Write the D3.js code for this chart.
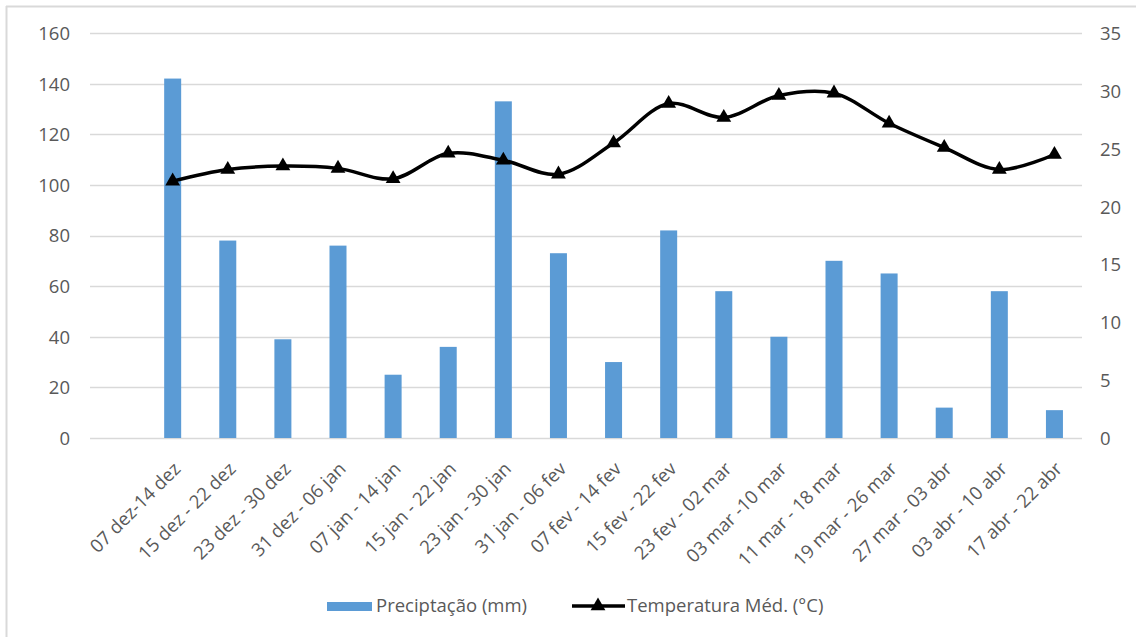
<!DOCTYPE html>
<html>
<head>
<meta charset="utf-8">
<script src="https://cdn.jsdelivr.net/npm/d3@7"></script>
<style>
  html, body { margin: 0; padding: 0; background: #ffffff; }
  svg { display: block; }
  text { font-family: "Open Sans", "Noto Sans", sans-serif; }
</style>
</head>
<body>
<svg id="chart" width="1136" height="637"></svg>
<script>
// ---- Data ----
const categories = ["", "07 dez-14 dez", "15 dez - 22 dez", "23 dez - 30 dez", "31 dez - 06 jan",
  "07 jan - 14 jan", "15 jan - 22 jan", "23 jan - 30 jan", "31 jan - 06 fev", "07 fev - 14 fev",
  "15 fev - 22 fev", "23 fev - 02 mar", "03 mar -10 mar", "11 mar - 18 mar", "19 mar - 26 mar",
  "27 mar - 03 abr", "03 abr - 10 abr", "17 abr - 22 abr"];
const precipitation = [null, 142, 78, 39, 76, 25, 36, 133, 73, 30, 82, 58, 40, 70, 65, 12, 58, 11];
const temperature = [null, 22.2, 23.2, 23.5, 23.3, 22.4, 24.6, 24.0, 22.8, 25.5, 28.9, 27.7, 29.6, 29.8, 27.2, 25.1, 23.2, 24.5];
const leftTicks = [0, 20, 40, 60, 80, 100, 120, 140, 160];
const rightTicks = [0, 5, 10, 15, 20, 25, 30, 35];
const seriesNames = ["Preciptação (mm)", "Temperatura Méd. (°C)"];

// ---- Layout ----
const svg = d3.select("#chart");
const plot = { left: 90, right: 1082, top: 33, bottom: 438 };
const textColor = "#595959";
const gridColor = "#d9d9d9";
const barColor = "#5b9bd5";
const fontSize = 18.5;

const x = d3.scaleBand().domain(categories.map((c, i) => i)).range([plot.left, plot.right]).padding(0);
const yL = d3.scaleLinear().domain([0, 160]).range([plot.bottom, plot.top]);
const yR = d3.scaleLinear().domain([0, 35]).range([plot.bottom, plot.top]);

// Outer frame (light gray left and top edges)
svg.append("line").attr("x1", 6.5).attr("x2", 6.5).attr("y1", 6).attr("y2", 637)
  .attr("stroke", gridColor).attr("stroke-width", 2);
svg.append("line").attr("x1", 6).attr("x2", 1136).attr("y1", 6.5).attr("y2", 6.5)
  .attr("stroke", gridColor).attr("stroke-width", 2);

// Gridlines
svg.append("g").selectAll("line").data(leftTicks).join("line")
  .attr("x1", plot.left).attr("x2", plot.right)
  .attr("y1", d => Math.round(yL(d)) + 0.5).attr("y2", d => Math.round(yL(d)) + 0.5)
  .attr("stroke", gridColor).attr("stroke-width", 1.3);

// Left axis
const leftAxis = d3.axisLeft(yL).tickValues(leftTicks).tickSize(0).tickPadding(0);
const gL = svg.append("g").attr("transform", `translate(70,0)`).call(leftAxis);
gL.select(".domain").remove();
gL.selectAll("text").attr("fill", textColor).attr("font-size", fontSize).attr("x", 0).attr("dy", "0.35em")
  .style("font-family", '"Open Sans", sans-serif');

// Right axis
const rightAxis = d3.axisRight(yR).tickValues(rightTicks).tickSize(0).tickPadding(0);
const gR = svg.append("g").attr("transform", `translate(1100,0)`).call(rightAxis);
gR.select(".domain").remove();
gR.selectAll("text").attr("fill", textColor).attr("font-size", fontSize).attr("x", 0).attr("dy", "0.35em")
  .style("font-family", '"Open Sans", sans-serif');

// Bars
const barW = 17;
const barData = precipitation.map((v, i) => ({ i, v })).filter(d => d.v != null);
svg.append("g").selectAll("rect").data(barData).join("rect")
  .attr("x", d => x(d.i) + x.bandwidth() / 2 - barW / 2)
  .attr("width", barW)
  .attr("y", d => yL(d.v))
  .attr("height", d => yL(0) - yL(d.v))
  .attr("fill", barColor);

// X category labels (rotated)
const labData = categories.map((c, i) => ({ i, c })).filter(d => d.c !== "");
svg.append("g").selectAll("text").data(labData).join("text")
  .attr("transform", d => `translate(${x(d.i) + x.bandwidth() / 2 + 9},470) rotate(-45)`)
  .attr("text-anchor", "end")
  .attr("fill", textColor)
  .attr("font-size", fontSize)
  .text(d => d.c);

// Temperature line
const tempData = temperature.map((v, i) => ({ i, v })).filter(d => d.v != null);
const line = d3.line()
  .x(d => x(d.i) + x.bandwidth() / 2)
  .y(d => yR(d.v))
  .curve(d3.curveCatmullRom.alpha(0.5));
svg.append("path").datum(tempData)
  .attr("d", line)
  .attr("fill", "none").attr("stroke", "#000").attr("stroke-width", 3.5)
  .attr("stroke-linejoin", "round").attr("stroke-linecap", "round");

const tri = d3.symbol().type(d3.symbolTriangle).size(95);
svg.append("g").selectAll("path").data(tempData).join("path")
  .attr("transform", d => `translate(${x(d.i) + x.bandwidth() / 2},${yR(d.v)})`)
  .attr("d", tri)
  .attr("fill", "#000");

// Legend
const lg = svg.append("g");
lg.append("rect").attr("x", 327).attr("y", 602).attr("width", 45).attr("height", 9).attr("fill", barColor);
lg.append("text").attr("x", 376).attr("y", 606).attr("dy", "0.35em").attr("fill", textColor)
  .attr("font-size", fontSize).text(seriesNames[0]);
lg.append("line").attr("x1", 572).attr("x2", 625).attr("y1", 606).attr("y2", 606)
  .attr("stroke", "#000").attr("stroke-width", 3.5);
lg.append("path").attr("transform", "translate(598,606)").attr("d", tri).attr("fill", "#000");
lg.append("text").attr("x", 627).attr("y", 606).attr("dy", "0.35em").attr("fill", textColor)
  .attr("font-size", fontSize).text(seriesNames[1]);
</script>
</body>
</html>
